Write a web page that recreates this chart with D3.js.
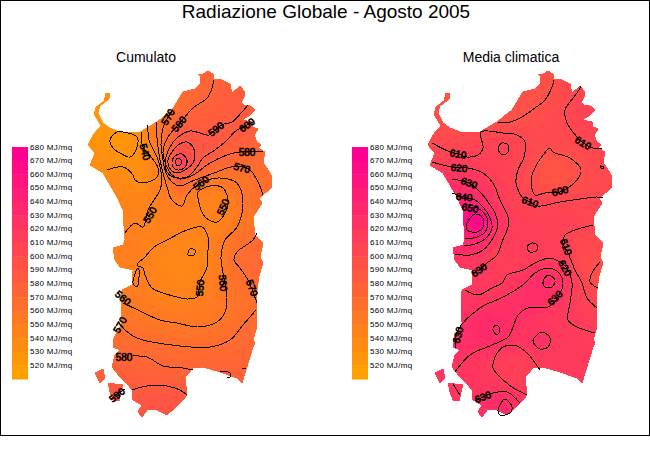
<!DOCTYPE html>
<html>
<head>
<meta charset="utf-8">
<script src="https://cdn.jsdelivr.net/npm/d3@7"></script>
<style>
  body { margin: 0; background: #fff; }
  text { font-family: "Liberation Sans", Arial, sans-serif; fill: #000; }
</style>
</head>
<body>
<div id="canvas"></div>
<script>
const TITLE = 'Radiazione Globale - Agosto 2005';
const MAP_NAMES = ['Cumulato', 'Media climatica'];
const LEGEND_VALUES = [680, 670, 660, 650, 640, 630, 620, 610, 600, 590, 580, 570, 560, 550, 540, 530, 520];

// coastline, in map units
const islandMain = [[13,55],[17,50],[21,46],[14,34],[16,27],[24,21],[26,13],[30,13],[29,19],[20,26],[18,33],[23,43],[30,48],[40,52],[60,52],[77,42],[92,30],[103,12],[115,9],[120,4],[121,-4],[118,-6],[123,-6],[128,-9],[133,-6],[134,0],[140,-1],[150,4],[152,13],[158,8],[160,6],[164,11],[165,15],[161,23],[164,25],[169,25],[175,30],[170,35],[162,40],[172,42],[173,47],[178,49],[174,55],[177,62],[181,65],[178,68],[185,72],[183,83],[187,88],[192,97],[192,107],[183,115],[179,118],[182,123],[173,137],[175,155],[183,163],[180,177],[183,183],[179,196],[177,210],[177,247],[173,260],[175,263],[173,267],[170,277],[165,293],[162,303],[157,298],[140,292],[123,287],[113,288],[105,297],[107,315],[100,323],[87,335],[77,330],[67,330],[62,337],[58,332],[62,325],[53,320],[52,310],[48,305],[40,297],[32,287],[35,275],[40,270],[33,267],[33,260],[42,243],[41,227],[42,210],[52,205],[53,190],[40,187],[35,180],[33,168],[43,165],[45,160],[44,147],[43,130],[37,117],[23,93],[10,85],[15,73],[8,65]];
const islandSanPietro = [[15,293],[23,289],[25,298],[20,303]];
const islandSantAntioco = [[28,303],[43,305],[42,308],[39,321],[33,320],[30,312]];

// MJ/mq, one row per 20 map units
const gridU = [0, 20, 40, 60, 80, 100, 120, 140, 160, 180, 200];
const gridV = [-20, 0, 20, 40, 60, 80, 100, 120, 140, 160, 180, 200, 220, 240, 260, 280, 300, 320, 340];
const cumulatoGrid = [
  [560,560,565,570,575,578,582,586,590,592,592],
  [540,545,550,556,565,573,578,583,587,590,590],
  [535,535,538,546,562,573,579,586,589,590,590],
  [530,530,533,540,563,580,586,588,591,587,587],
  [535,532,529,538,564,595,596,592,587,582,580],
  [540,538,536,537,560,618,594,581,578,575,573],
  [542,543,544,539,553,586,565,560,563,569,570],
  [546,547,548,547,553,557,551,547,560,572,574],
  [548,548,548,549,552,554,553,549,559,566,570],
  [552,552,552,552,551,547,546,556,567,572,574],
  [553,553,553,552,546,543,545,556,571,577,580],
  [555,555,555,554,547,545,550,559,569,576,578],
  [558,558,558,557,552,550,553,558,565,569,571],
  [565,565,564,562,560,559,559,561,568,573,575],
  [572,572,572,571,569,567,568,570,574,577,578],
  [581,581,580,579,578,576,577,578,579,580,581],
  [589,587,587,586,586,584,584,584,584,584,584],
  [594,593,593,594,596,595,592,590,590,590,590],
  [596,596,596,597,598,597,594,592,592,592,592]
];
const climaticaGrid = [
  [597,597,597,597,597,597,598,601,604,607,609],
  [596,596,596,597,598,598,600,603,608,612,612],
  [598,598,598,598,598,599,600,606,611,613,614],
  [604,604,603,602,600,600,603,607,613,616,617],
  [606,607,607,610,613,611,607,606,609,612,613],
  [610,613,618,617,615,611,599,597,603,609,610],
  [625,628,630,625,616,609,597,596,600,606,608],
  [640,642,642,636,620,613,610,610,610,610,610],
  [655,660,672,678,628,617,615,614,612,612,612],
  [645,642,642,645,620,618,618,614,609,607,607],
  [628,628,628,622,617,618,620,620,607,601,600],
  [625,625,625,622,620,628,638,633,613,600,598],
  [625,625,624,624,629,635,635,626,615,608,606],
  [628,628,631,636,638,632,625,622,620,617,616],
  [633,633,634,637,635,626,632,623,620,618,618],
  [628,629,629,626,617,617,621,621,620,620,620],
  [625,625,625,624,620,616,618,620,620,620,620],
  [625,627,628,631,638,629,623,621,620,620,620],
  [626,628,630,634,642,633,625,622,621,621,621]
];

// traced isolines: [closed?, points]
const cumulatoLines = [
  [true,  [[30,60],[37,52],[43,52],[57,57],[57,67],[50,77],[40,73],[33,68]]],
  [false, [[61,52],[63,67],[72,78],[78,88],[77,97],[63,103],[55,100],[53,95],[43,87],[27,90]]],
  [false, [[68,45],[69,60],[77,77],[80,87],[82,100],[80,110],[68,130],[63,147],[55,143],[45,153]]],
  [false, [[76,42],[77,58],[80,80],[87,107],[92,120],[102,126],[107,115],[117,105],[127,100],[140,98],[157,103],[163,123],[157,147],[145,160],[141,177],[143,193],[147,217],[145,232],[137,242],[118,247],[97,243],[80,240],[58,230],[43,223]]],
  [false, [[93,30],[88,37],[83,48],[81,65],[83,80],[86,93],[92,102],[100,106],[110,102],[123,97],[137,92],[147,88],[158,86],[170,90],[178,102],[183,115]]],
  [false, [[134,0],[128,17],[113,28],[99,44],[88,57],[83,72],[86,85],[92,95],[100,99],[113,95],[130,83],[147,75],[160,72],[183,72]]],
  [false, [[168,25],[162,32],[152,42],[144,44],[136,49],[129,55],[120,53],[110,51],[97,58],[90,67],[85,83],[87,92],[93,97],[107,97],[117,87],[123,78],[135,70],[145,62],[157,50],[167,45],[173,42]]],
  [true,  [[88,80],[92,72],[98,65],[107,62],[113,67],[115,75],[113,83],[105,90],[97,93],[91,90]]],
  [true,  [[92,82],[95,76],[102,74],[107,80],[105,87],[98,90],[93,87]]],
  [true,  [[95,82],[98,78],[102,82],[98,86]]],
  [true,  [[118,112],[130,106],[143,108],[148,125],[137,142],[125,137],[118,118]]],
  [true,  [[74,167],[87,160],[107,150],[122,147],[128,157],[128,170],[127,187],[120,202],[117,217],[107,219],[97,217],[80,212],[72,208],[65,195],[63,188],[57,185],[65,177]]],
  [true,  [[58,188],[53,203],[57,207],[59,190]]],
  [true,  [[108,175],[110,169],[115,170],[114,175]]],
  [false, [[177,153],[173,160],[157,172],[154,180],[160,188],[168,200],[173,212],[177,223]]],
  [false, [[176,230],[163,245],[150,260],[130,267],[100,266],[57,258],[45,250],[40,245]]],
  [false, [[53,276],[67,277],[83,286],[103,288],[113,290]]],
  [false, [[140,291],[150,293],[150,297],[147,297]]],
  [false, [[162,289],[166,288]]],
  [false, [[52,310],[67,306],[87,306],[100,310],[107,315]]],
  [false, [[45,309],[37,314],[33,317]]]
];
const climaticaLines = [
  [false, [[134,0],[132,7],[125,20],[115,28],[105,35],[100,38],[90,42],[78,42]]],
  [false, [[161,6],[157,13],[150,22],[145,30],[147,43],[157,57],[163,63],[173,68],[182,69]]],
  [false, [[12,63],[30,72],[38,74],[47,77],[58,75],[63,68],[61,52],[83,53],[97,55],[105,62],[104,77],[98,90],[96,103],[103,118],[110,122],[118,126],[140,122],[160,119],[177,117],[183,118]]],
  [true,  [[78,69],[82,63],[88,65],[88,72],[83,75]]],
  [true,  [[130,68],[123,75],[115,88],[111,100],[115,115],[125,113],[140,112],[157,100],[161,90],[150,78],[133,72]]],
  [true,  [[180,86],[184,87],[182,89]]],
  [false, [[12,82],[32,87],[48,88],[63,93],[73,103],[80,120],[88,137],[88,147],[85,155],[82,162],[77,175],[67,183],[59,190],[53,193]]],
  [false, [[32,99],[49,103],[60,112],[68,122],[75,133],[78,145],[73,158],[63,170],[50,175],[35,174]]],
  [false, [[32,113],[44,117],[55,120],[63,127],[70,138],[72,148],[66,158],[55,164],[44,166]]],
  [false, [[50,128],[57,128],[63,132],[68,142],[65,152],[57,157],[45,159]]],
  [true,  [[47,143],[55,134],[63,138],[63,147],[57,152],[47,150]]],
  [false, [[180,182],[172,193],[170,202],[178,208]]],
  [false, [[173,145],[155,150],[145,155],[143,163],[148,173],[155,190],[162,203],[167,218],[177,228]]],
  [false, [[45,210],[58,215],[72,208],[82,203],[87,195],[103,190],[117,182],[130,178],[140,182],[147,188],[152,203],[150,223],[148,240],[157,247],[175,253]]],
  [false, [[35,268],[38,250],[60,228],[83,217],[103,205],[115,193],[128,188],[138,192],[143,203],[138,217],[128,227],[108,228],[98,235],[93,247],[88,257],[72,265],[50,275],[35,292]]],
  [true,  [[123,202],[128,195],[135,200],[132,207],[125,207]]],
  [true,  [[73,248],[77,245],[80,250],[77,255],[74,252]]],
  [true,  [[113,260],[122,252],[130,258],[128,267],[120,269],[115,265]]],
  [true,  [[107,167],[112,163],[117,165],[117,170],[110,172]]],
  [false, [[120,290],[107,273],[97,266],[83,267],[75,277],[73,288],[80,297],[92,307],[107,315]]],
  [false, [[55,321],[73,313],[87,312],[100,323]]],
  [true,  [[78,330],[85,319],[92,327],[90,333],[80,335]]],
  [false, [[33,304],[40,315]]]
];

// isoline labels: [text, u, v, rotation]
const cumulatoLabels = [
  ['570',88,37,-60],['580',99,44,-50],['590',136,49,-40],['600',167,45,-35],
  ['580',167,72,0],['570',162,88,15],['560',121,103,-40],['550',143,127,-65],
  ['550',70,135,-60],['540',65,72,75],['550',120,208,-85],['560',143,203,85],
  ['570',172,208,70],['560',43,218,40],['570',40,245,-60],['580',44,277,0],['590',37,315,-40]
];
const climaticaLabels = [
  ['610',38,74,10],['620',39,88,5],['630',49,103,20],['640',44,117,5],['650',50,128,10],
  ['600',140,111,-15],['610',110,122,20],['610',163,63,30],['610',146,167,70],
  ['620',145,188,60],['630',135,218,-45],['630',59,190,-35],['630',38,255,-75],['630',63,317,-20]
];

const WIDTH = 650, HEIGHT = 450;
const svg = d3.select('#canvas').append('svg')
  .attr('width', WIDTH)
  .attr('height', HEIGHT)
  .style('display', 'block');

svg.append('rect')
  .attr('x', 0.5).attr('y', 0.5)
  .attr('width', WIDTH - 1).attr('height', 435)
  .attr('fill', '#fff')
  .attr('stroke', '#000');

svg.append('text')
  .attr('x', 326).attr('y', 18)
  .attr('text-anchor', 'middle')
  .attr('font-size', 19)
  .text(TITLE);

const xMap = d3.scaleLinear().domain([0, 200]).range([80, 280]);
const yMap = d3.scaleLinear().domain([-20, 340]).range([60, 420]);
const color = d3.scaleLinear().domain([520, 680]).range(['rgb(255,160,0)', 'rgb(255,0,144)']);
const yLegend = d3.scaleBand().domain(LEGEND_VALUES).range([147, 379]);

const outline = d3.line().x(d => xMap(d[0])).y(d => yMap(d[1])).curve(d3.curveLinearClosed);
const coast = [islandMain, islandSanPietro, islandSantAntioco].map(outline).join('');

svg.append('defs').append('clipPath').attr('id', 'island')
  .append('path').attr('d', coast).attr('shape-rendering', 'crispEdges');

// contour grid index -> map position (cell centres sit at i + 0.5)
const xGrid = d3.scaleLinear().domain([0.5, gridU.length - 0.5]).range([xMap(gridU[0]), xMap(gridU[gridU.length - 1])]);
const yGrid = d3.scaleLinear().domain([0.5, gridV.length - 0.5]).range([yMap(gridV[0]), yMap(gridV[gridV.length - 1])]);
const gridPath = d3.geoPath(d3.geoTransform({
  point(a, b) { this.stream.point(xGrid(a), yGrid(b)); }
}));

const lineOpen = d3.line().x(d => xMap(d[0])).y(d => yMap(d[1])).curve(d3.curveCatmullRom);
const lineClosed = d3.line().x(d => xMap(d[0])).y(d => yMap(d[1])).curve(d3.curveCatmullRomClosed);

function drawMap(g, name, grid, lines, labels) {
  g.append('text')
    .attr('x', name === MAP_NAMES[0] ? 146 : 171)
    .attr('y', 62)
    .attr('text-anchor', 'middle')
    .attr('font-size', 14)
    .text(name);

  // legend
  g.selectAll('rect.band').data(LEGEND_VALUES).enter().append('rect')
    .attr('class', 'band')
    .attr('x', 12)
    .attr('y', d => yLegend(d))
    .attr('width', 16)
    .attr('height', yLegend.bandwidth() + 0.5)
    .attr('fill', d => color(d));

  g.selectAll('text.tick').data(LEGEND_VALUES).enter().append('text')
    .attr('class', 'tick')
    .attr('x', 30)
    .attr('y', d => yLegend(d) + 2.5)
    .attr('font-size', 8)
    .attr('letter-spacing', 0.32)
    .text(d => d + ' MJ/mq');

  // shaded field
  const contours = d3.contours()
    .size([gridU.length, gridV.length])
    .thresholds(d3.range(520, 690, 2))(grid.flat());

  g.append('g').attr('clip-path', 'url(#island)')
    .selectAll('path').data(contours).enter().append('path')
    .attr('d', gridPath)
    .attr('fill', d => color(d.value + 1))
    .attr('shape-rendering', 'crispEdges');

  // isolines
  g.append('g').selectAll('path').data(lines).enter().append('path')
    .attr('d', d => d[0] ? lineClosed(d[1]) : lineOpen(d[1]))
    .attr('fill', 'none')
    .attr('stroke', '#000')
    .attr('stroke-width', 1)
    .attr('shape-rendering', 'crispEdges');

  g.append('g').selectAll('text').data(labels).enter().append('text')
    .attr('transform', d => `translate(${xMap(d[1])}, ${yMap(d[2])}) rotate(${d[3]})`)
    .attr('text-anchor', 'middle')
    .attr('dy', 3.5)
    .attr('font-size', 10)
    .attr('stroke', '#000')
    .attr('stroke-width', 0.6)
    .text(d => d[0]);
}

drawMap(svg.append('g'), MAP_NAMES[0], cumulatoGrid, cumulatoLines, cumulatoLabels);
drawMap(svg.append('g').attr('transform', 'translate(340, 0)'), MAP_NAMES[1], climaticaGrid, climaticaLines, climaticaLabels);
</script>
</body>
</html>
